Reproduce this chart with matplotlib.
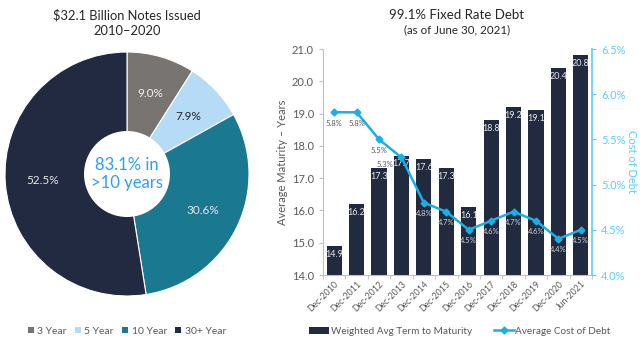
import matplotlib
matplotlib.use("Agg")
import matplotlib.pyplot as plt
from matplotlib.patches import Circle, Patch
from matplotlib.lines import Line2D
from matplotlib.ticker import FixedLocator, FuncFormatter

plt.rcParams['font.family'] = ['Lato', 'DejaVu Sans']

# Notes issued by tenor
tenors = ["3 Year", "5 Year", "10 Year", "30+ Year"]
tenor_share = [9.0, 7.9, 30.6, 52.5]
tenor_colors = ["#787472", "#b5dbf6", "#1b7891", "#212a40"]
tenor_text_colors = ["#f2f2f2", "#262626", "#e6e6e6", "#e6e6e6"]

# Debt profile by period
periods = ["Dec-2010", "Dec-2011", "Dec-2012", "Dec-2013", "Dec-2014", "Dec-2015",
           "Dec-2016", "Dec-2017", "Dec-2018", "Dec-2019", "Dec-2020", "Jun-2021"]
term_years = [14.9, 16.2, 17.3, 17.7, 17.6, 17.3, 16.1, 18.8, 19.2, 19.1, 20.4, 20.8]
cost_pct = [5.8, 5.8, 5.5, 5.3, 4.8, 4.7, 4.5, 4.6, 4.7, 4.6, 4.4, 4.5]

W, H = 640, 339
fig = plt.figure(figsize=(W / 100, H / 100), dpi=100)
gray = "#595959"
navy = "#212a3e"
line_blue = "#1aafe6"
axis_blue = "#5ccdf5"

# ---------------- Pie ----------------
cx, cy, r = 127, 174, 122
axp = fig.add_axes([(cx - r) / W, (H - cy - r) / H, 2 * r / W, 2 * r / H])
wedges, texts, autotexts = axp.pie(
    tenor_share, colors=tenor_colors, startangle=90, counterclock=False,
    autopct=lambda p: f"{p:.1f}%", pctdistance=0.69,
    wedgeprops=dict(edgecolor="white", linewidth=0.8),
    textprops=dict(fontsize=8.5))
for t, c in zip(autotexts, tenor_text_colors):
    t.set_color(c)
axp.add_patch(Circle((0, 0), 43 / r, facecolor="white", edgecolor="none", zorder=5))
axp.text(0, 0, "83.1% in\n>10 years", ha="center", va="center", fontsize=12,
         color="#2f9ef0", zorder=6, linespacing=1.2)
axp.set_xlim(-1, 1)
axp.set_ylim(-1, 1)
axp.set_aspect("equal")
axp.axis("off")

fig.text(cx / W, 1 - 23 / H, "$32.1 Billion Notes Issued\n2010\u20132020", ha="center",
         va="center", fontsize=9.3, color="#262626", linespacing=1.3)

pie_handles = [Patch(facecolor=c, edgecolor="none") for c in tenor_colors]
fig.legend(pie_handles, tenors, loc="center", bbox_to_anchor=(cx / W, 1 - 331 / H),
           ncol=4, frameon=False, fontsize=7.5, handlelength=0.55, handleheight=0.55,
           handletextpad=0.35, columnspacing=0.8, labelcolor=gray)

# ---------------- Bars + line ----------------
x0, x1, ytop, ybot = 323, 592, 49, 275
ax = fig.add_axes([x0 / W, 1 - ybot / H, (x1 - x0) / W, (ybot - ytop) / H])
xs = list(range(len(periods)))
ax.bar(xs, term_years, width=0.68, color=navy, zorder=2)
ax.set_xlim(-0.5, len(periods) - 0.5)
ax.set_ylim(14, 21)
ax.set_yticks([14 + i for i in range(8)])
ax.yaxis.set_major_formatter(FuncFormatter(lambda v, p: f"{v:.1f}"))
ax.set_xticks(xs)
ax.set_xticklabels(periods, rotation=45, ha="right", rotation_mode="anchor",
                   fontsize=6.3, color=gray)
ax.tick_params(axis="x", length=0, pad=3)
ax.xaxis.set_minor_locator(FixedLocator([i - 0.5 for i in range(len(periods) + 1)]))
ax.tick_params(axis="x", which="minor", length=3, color="#bfbfbf")
ax.tick_params(axis="y", labelsize=8, labelcolor=gray, length=3, color="#bfbfbf")
for s in ["top", "right"]:
    ax.spines[s].set_visible(False)
ax.spines["left"].set_color("#bfbfbf")
ax.spines["bottom"].set_color("#bfbfbf")
ax.set_ylabel("Average Maturity \u2013 Years", fontsize=8, color=gray, labelpad=3)

for x, v in zip(xs, term_years):
    ax.text(x, v - 0.12, f"{v:.1f}", ha="center", va="top", fontsize=6.5, color="#e8e8e8",
            zorder=4)

ax2 = ax.twinx()
ax2.plot(xs, cost_pct, color=line_blue, lw=1.8, marker="D", ms=3.5, zorder=5)
ax2.set_ylim(4.0, 6.5)
ax2.set_yticks([4.0, 4.5, 5.0, 5.5, 6.0, 6.5])
ax2.yaxis.set_major_formatter(FuncFormatter(lambda v, p: f"{v:.1f}%"))
ax2.tick_params(axis="y", labelsize=8, labelcolor=axis_blue, length=3, color=axis_blue)
for s in ["top", "left", "bottom"]:
    ax2.spines[s].set_visible(False)
ax2.spines["right"].set_color(axis_blue)
ax2.spines["right"].set_linewidth(1.2)
ax2.set_ylabel("Cost of Debt", fontsize=8, color=axis_blue, rotation=270, labelpad=8)

label_dx = [0, 0, 0, -0.72, 0, 0, 0, 0, 0, 0, 0, 0]
label_dy = [-0.12, -0.12, -0.12, -0.08, -0.12, -0.12, -0.12, -0.12, -0.12, -0.12, -0.12, -0.12]
for x, v, dx, dy in zip(xs, cost_pct, label_dx, label_dy):
    ly = v + dy
    # convert label height to the bar axis scale to pick a readable colour
    ly_bar = 14 + (ly - 4.0) / 2.5 * 7
    on_bar = ly_bar < term_years[x] and dx == 0
    ax2.text(x + dx, ly, f"{v:.1f}%", ha="center", va="center", fontsize=5.5,
             color="#d0d0d0" if on_bar else gray, zorder=6)

fig.text(457 / W, 1 - 15 / H, "99.1% Fixed Rate Debt", ha="center", va="center",
         fontsize=9.5, color="#262626")
fig.text(457 / W, 1 - 30 / H, "(as of June 30, 2021)", ha="center", va="center",
         fontsize=8.3, color="#262626")

bar_handles = [Patch(facecolor=navy, edgecolor="none"),
               Line2D([], [], color=line_blue, lw=1.8, marker="D", ms=3.5)]
fig.legend(bar_handles, ["Weighted Avg Term to Maturity", "Average Cost of Debt"],
           loc="center", bbox_to_anchor=(460 / W, 1 - 331 / H), ncol=2, frameon=False,
           fontsize=7.2, handlelength=2.0, handleheight=0.7, handletextpad=0.15,
           columnspacing=2.2, labelcolor=gray)

fig.savefig("out.png", dpi=100)
